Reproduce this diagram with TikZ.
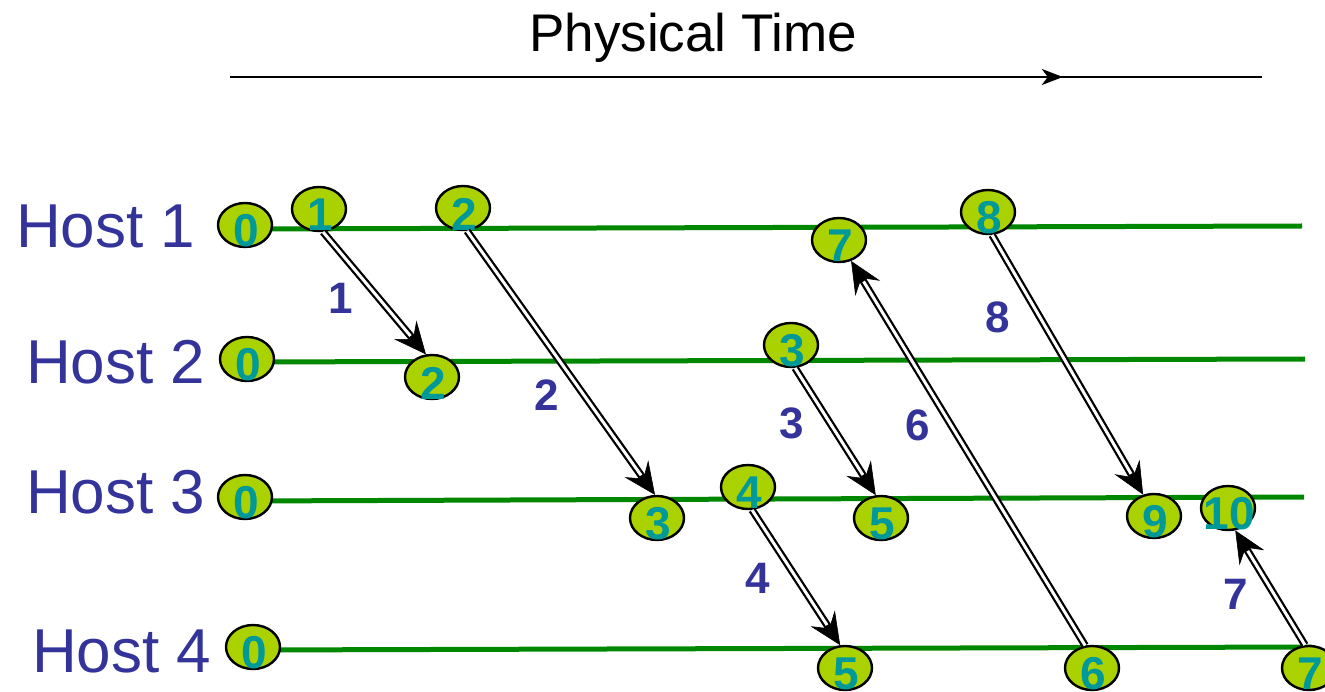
\documentclass[tikz,border=0pt]{standalone}
\usepackage{fontspec}
\setmainfont{Liberation Sans}
\usetikzlibrary{shapes.geometric,arrows.meta,decorations.markings,backgrounds}

\definecolor{hostblue}{RGB}{51,51,153}
\definecolor{linegreen}{RGB}{0,135,0}
\definecolor{evfill}{RGB}{170,210,0}
\definecolor{evtext}{RGB}{0,153,153}

\tikzset{
  ev/.style={ellipse, draw=black, line width=2.4pt, fill=evfill,
    minimum width=54pt, minimum height=44pt, inner sep=0pt},
  evnum/.style={font=\fontsize{46}{46}\bfseries\selectfont, text=evtext,
    inner sep=0pt, xshift=1pt, yshift=-6pt},
  hostlbl/.style={font=\fontsize{62}{62}\selectfont, text=hostblue,
    anchor=base west, inner sep=0pt},
  msglbl/.style={font=\fontsize{44}{44}\bfseries\selectfont, text=hostblue,
    inner sep=0pt},
  hostline/.style={draw=linegreen, line width=5pt},
  % hollow message line: thick black stroke with a white core on top
  msg/.style={draw=black, line width=7.5pt,
    -{Stealth[length=32pt,width=29pt,inset=12pt,line width=0.6pt]},
    postaction={draw=white, line width=3pt, -, shorten >=24pt}},
}

\begin{document}
\begin{tikzpicture}[x=1pt,y=-1pt]
\useasboundingbox (0,0) rectangle (1325,692);

% title and the time axis
\node[font=\fontsize{53}{53}\selectfont, anchor=base west, inner sep=0pt] (title) at (529,52) {Physical Time};
\coordinate (tl) at (230,77);
\coordinate (tr) at (1262,77);
\draw[line width=2.6pt,
  postaction={decorate, decoration={markings,
    mark=at position 0.807 with {\arrow{Stealth[length=21pt,width=16pt,inset=6pt]}}}}]
  (tl) -- (tr);

% host names
\node[hostlbl] (host1) at (16,248) {Host 1};
\node[hostlbl] (host2) at (26,384) {Host 2};
\node[hostlbl] (host3) at (26,513) {Host 3};
\node[hostlbl] (host4) at (32,672) {Host 4};

% events on host 1
\node[ev, label={[evnum]center:0}] (h1e0) at (245,225) {};
\node[ev, label={[evnum]center:1}] (h1e1) at (319,209) {};
\node[ev, label={[evnum]center:2}] (h1e2) at (463,208) {};
\node[ev, label={[evnum]center:7}] (h1e7) at (839,240) {};
\node[ev, label={[evnum]center:8}] (h1e8) at (988,212) {};

% events on host 2
\node[ev, label={[evnum]center:0}] (h2e0) at (247,359) {};
\node[ev, label={[evnum]center:2}] (h2e2) at (432,377) {};
\node[ev, label={[evnum]center:3}] (h2e3) at (791,345) {};

% events on host 3
\node[ev, label={[evnum]center:0}] (h3e0) at (245,497) {};
\node[ev, label={[evnum]center:3}] (h3e3) at (657,518) {};
\node[ev, label={[evnum]center:4}] (h3e4) at (748,487) {};
\node[ev, label={[evnum]center:5}] (h3e5) at (881,518) {};
\node[ev, label={[evnum]center:9}] (h3e9) at (1154,516) {};
\node[ev, label={[evnum]center:10}] (h3e10) at (1228,508) {};

% events on host 4
\node[ev, label={[evnum]center:0}] (h4e0) at (253,647) {};
\node[ev, label={[evnum]center:5}] (h4e5) at (845,668) {};
\node[ev, label={[evnum]center:6}] (h4e6) at (1092,668) {};
\node[ev, label={[evnum]center:7}] (h4e7) at (1309,668) {};

% host time lines
\coordinate (h1s) at (245,229); \coordinate (h1t) at (1302,226);
\coordinate (h2s) at (247,362); \coordinate (h2t) at (1305,359);
\coordinate (h3s) at (245,501); \coordinate (h3t) at (1304,497);
\coordinate (h4s) at (253,650); \coordinate (h4t) at (1312,647);
\begin{pgfonlayer}{background}
  \draw[hostline] (h1s) -- (h1t);
  \draw[hostline] (h2s) -- (h2t);
  \draw[hostline] (h3s) -- (h3t);
  \draw[hostline] (h4s) -- (h4t);
\end{pgfonlayer}

% messages
\draw[msg] (h1e1.-80) -- (h2e2.105);
\draw[msg] (h1e2.-80) -- (h3e3.95);
\draw[msg] (h2e3.-80) -- (h3e5.103);
\draw[msg] (h3e4.-80) -- (h4e5.102);
\draw[msg] (h4e6.107) -- (h1e7.-60);
\draw[msg] (h4e7.100) -- (h3e10.-72);
\draw[msg] (h1e8.-80) -- (h3e9.117);

% message numbers
\node[msglbl] (m1) at (341,298) {1};
\node[msglbl] (m2) at (547,395) {2};
\node[msglbl] (m3) at (792,423) {3};
\node[msglbl] (m4) at (758,578) {4};
\node[msglbl] (m6) at (918,425) {6};
\node[msglbl] (m7) at (1236,594) {7};
\node[msglbl] (m8) at (998,317) {8};
\end{tikzpicture}
\end{document}
